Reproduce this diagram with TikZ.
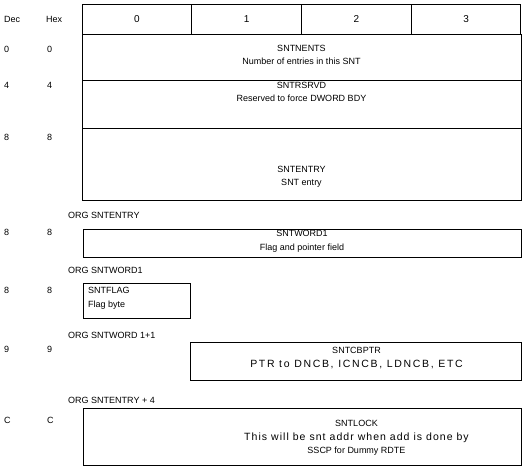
\documentclass[tikz,border=0pt]{standalone}
\usepackage{fontspec}
\setmainfont{Liberation Sans}
\newfontfamily\ptrfont[LetterSpace=16]{Liberation Sans}
\newfontfamily\lockfont[LetterSpace=10]{Liberation Sans}
\begin{document}
\begin{tikzpicture}[x=1pt, y=-1pt]
    \tikzstyle{field} = [draw, line width=1pt, rectangle, inner sep=0pt]
    \tikzstyle{ftext} = [align=center, inner sep=0pt, font=\fontsize{9}{13.5}\selectfont]
    \tikzstyle{lbl} = [anchor=west, inner sep=0pt, font=\fontsize{9}{13.5}\selectfont]

    \useasboundingbox (0,0) rectangle (523,466);

    % Byte columns
    \node [field, minimum width=109.75pt, minimum height=30pt] (c0) at (136.9,19) {0};
    \node [field, minimum width=109.75pt, minimum height=30pt] (c1) at (246.6,19) {1};
    \node [field, minimum width=109.75pt, minimum height=30pt] (c2) at (356.4,19) {2};
    \node [field, minimum width=109.75pt, minimum height=30pt] (c3) at (466.1,19) {3};
    \node [lbl] (dec) at (4,19) {Dec};
    \node [lbl] (hex) at (46,19) {Hex};

    % Fields of the table
    \node [field, minimum width=439pt, minimum height=46pt] (nents) at (301.5,57) {};
    \node [ftext] (nentstxt) at (301.5,55) {SNTNENTS\\Number of entries in this SNT};
    \node [field, minimum width=439pt, minimum height=48pt] (rsrvd) at (301.5,104) {};
    \node [ftext] (rsrvdtxt) at (301.5,92) {SNTRSRVD\\Reserved to force DWORD BDY};
    \node [field, minimum width=439pt, minimum height=72pt] (entry) at (301.5,164) {};
    \node [ftext] (entrytxt) at (301.5,177) {SNTENTRY\\SNT entry};

    % Redefinitions
    \node [lbl] (org1) at (68,215) {ORG SNTENTRY};
    \node [field, minimum width=438pt, minimum height=28pt] (word) at (302,243) {};
    \node [ftext] (wordtxt) at (302,241.5) {SNTWORD1\\Flag and pointer field};

    \node [lbl] (org2) at (68,270) {ORG SNTWORD1};
    \node [field, minimum width=107pt, minimum height=35pt] (flag) at (137,300.5) {};
    \node [ftext, align=left, anchor=west] (flagtxt) at (88,298.5) {SNTFLAG\\Flag byte};

    \node [lbl] (org3) at (68,335) {ORG SNTWORD 1+1};
    \node [field, minimum width=331pt, minimum height=38pt] (cbptr) at (356,361) {};
    \node [ftext] (cbptrtxt) at (356.5,358) {SNTCBPTR\\{\ptrfont\fontsize{10.5}{13.5}\selectfont PTR to DNCB, ICNCB, LDNCB, ETC}};

    \node [lbl] (org4) at (68,400) {ORG SNTENTRY + 4};
    \node [field, minimum width=438pt, minimum height=57pt] (lock) at (302,436.5) {};
    \node [ftext] (locktxt) at (356.5,438) {SNTLOCK\\{\lockfont\fontsize{10.5}{13.5}\selectfont This will be snt addr when add is done by}\\SSCP for Dummy RDTE};

    % Offsets
    \node [lbl] (d0) at (4,49) {0};   \node [lbl] (h0) at (47,49) {0};
    \node [lbl] (d4) at (4,85) {4};   \node [lbl] (h4) at (47,85) {4};
    \node [lbl] (d8) at (4,137) {8};  \node [lbl] (h8) at (47,137) {8};
    \node [lbl] (d8b) at (4,232) {8}; \node [lbl] (h8b) at (47,232) {8};
    \node [lbl] (d8c) at (4,290) {8}; \node [lbl] (h8c) at (47,290) {8};
    \node [lbl] (d9) at (4,349) {9};  \node [lbl] (h9) at (47,349) {9};
    \node [lbl] (dc) at (4,420) {C};  \node [lbl] (hc) at (47,420) {C};
\end{tikzpicture}
\end{document}
